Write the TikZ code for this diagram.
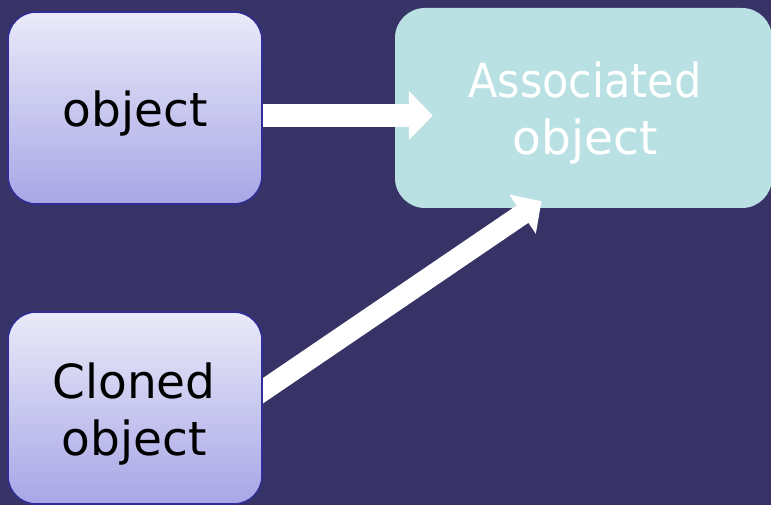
\documentclass[tikz,border=0pt]{standalone}
\usepackage{fontspec}
\setmainfont{DejaVu Sans}
\usetikzlibrary{arrows.meta}
\definecolor{bgnavy}{RGB}{55,51,102}
\definecolor{boxtop}{RGB}{234,234,249}
\definecolor{boxbot}{RGB}{168,166,230}
\definecolor{boxline}{RGB}{48,46,150}
\definecolor{assocfill}{RGB}{185,224,226}
\pgfdeclarelayer{front}
\pgfsetlayers{main,front}
\begin{document}
\begin{tikzpicture}[x=1pt,y=-1pt,
  objbox/.style={rectangle, rounded corners=28pt, draw=boxline, line width=1.6pt,
    top color=boxtop, bottom color=boxbot, minimum width=254pt, minimum height=192pt, inner sep=0pt},
  assocbox/.style={rectangle, rounded corners=30pt, fill=assocfill,
    minimum width=377pt, minimum height=200pt, inner sep=0pt},
  lbl/.style={font=\fontsize{47pt}{57pt}\selectfont, align=center, inner sep=0pt, anchor=base},
  fatarrow/.style={white, line width=23pt, -{Triangle[width=48pt,length=24pt]}}]
  \useasboundingbox (0,0) rectangle (771,505);
  \fill[bgnavy] (0,0) rectangle (771,505);

  \node[assocbox] (b) at (583.5,108) {};
  % base anchor of a two-line label sits on the last line
  \node[lbl, text=white] (btext) at (585,155) {\scalebox{0.915}[1]{Associated}\\object};

  \begin{pgfonlayer}{front}
    \node[objbox] (a) at (135,108) {};
    \node[lbl] (atext) at (135,127) {object};
    \node[objbox] (c) at (135,408) {};
    \node[lbl] (ctext) at (134,455) {Cloned\\object};
  \end{pgfonlayer}

  % arrows run from behind the left boxes onto the associated object
  \draw[fatarrow] ([xshift=-10pt,yshift=-7.5pt]a.east) -- ([xshift=38pt,yshift=-7.5pt]b.west);
  \draw[fatarrow, line width=21pt, -{Triangle[width=46pt,length=23pt]}]
    ([xshift=-12pt,yshift=9pt]c.east) -- ([xshift=-42pt,yshift=7pt]b.south);
\end{tikzpicture}
\end{document}
